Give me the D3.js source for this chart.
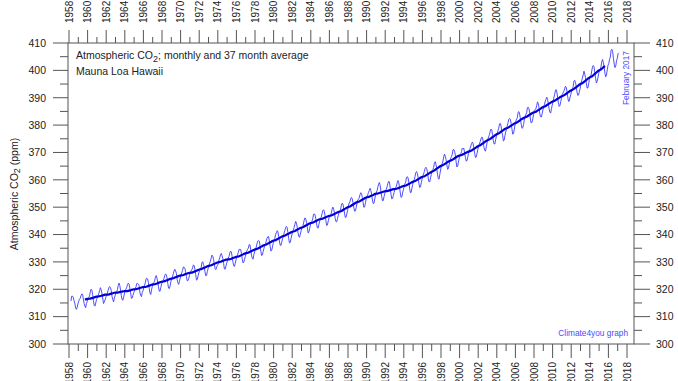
<!DOCTYPE html>
<html>
<head>
<meta charset="utf-8">
<script src="https://cdn.jsdelivr.net/npm/d3@7"></script>
<style>
  body { margin: 0; background: #fff; }
  svg { display: block; font-family: "Liberation Sans", Arial, sans-serif; }
</style>
</head>
<body>
<div id="chart"></div>
<script>
// monthly Mauna Loa CO2 (ppm), one row per year, Jan..Dec
// first row starts in March 1958, last row ends in February 2017
var firstYear = 1958;
var firstMonth = 3;
var monthlyCO2 = [
  [315.71, 317.45, 317.50, 317.10, 315.86, 314.93, 313.20, 312.66, 313.33, 314.67],
  [315.62, 316.38, 316.71, 317.72, 318.29, 318.15, 316.54, 314.80, 313.84, 313.26, 314.80, 315.58],
  [316.43, 316.97, 317.58, 319.02, 320.03, 319.59, 318.18, 315.91, 314.16, 313.83, 315.00, 316.19],
  [316.93, 317.70, 318.54, 319.48, 320.58, 319.77, 318.57, 316.79, 314.80, 315.38, 316.10, 317.01],
  [317.94, 318.56, 319.68, 320.63, 321.01, 320.55, 319.58, 317.40, 316.26, 315.42, 316.69, 317.69],
  [318.74, 319.08, 319.86, 321.39, 322.25, 321.47, 319.74, 317.77, 316.21, 315.99, 317.12, 318.31],
  [319.57, 320.07, 320.73, 321.77, 322.25, 321.89, 320.44, 318.70, 316.70, 316.79, 317.79, 318.71],
  [319.44, 320.44, 320.89, 322.13, 322.16, 321.87, 321.39, 318.81, 317.81, 317.30, 318.87, 319.42],
  [320.62, 321.59, 322.39, 323.87, 324.01, 323.75, 322.39, 320.37, 318.64, 318.10, 319.79, 321.08],
  [322.07, 322.50, 323.04, 324.42, 325.00, 324.09, 322.55, 320.92, 319.31, 319.31, 320.72, 321.96],
  [322.57, 323.15, 323.89, 325.02, 325.57, 325.36, 324.14, 322.03, 320.41, 320.25, 321.31, 322.84],
  [324.00, 324.42, 325.64, 326.66, 327.34, 326.76, 325.88, 323.67, 322.38, 321.78, 322.85, 324.11],
  [325.03, 325.99, 326.87, 328.13, 328.07, 327.66, 326.35, 324.69, 323.10, 323.16, 323.98, 325.13],
  [326.17, 326.68, 327.18, 327.78, 328.92, 328.57, 327.34, 325.46, 323.36, 323.57, 324.80, 326.01],
  [326.77, 327.63, 327.75, 329.72, 330.07, 329.09, 328.05, 326.32, 324.93, 325.06, 326.50, 327.55],
  [328.54, 329.56, 330.30, 331.50, 332.48, 332.07, 330.87, 329.31, 327.51, 327.18, 328.16, 328.64],
  [329.35, 330.71, 331.48, 332.65, 333.09, 332.25, 331.18, 329.40, 327.44, 327.37, 328.46, 329.58],
  [330.40, 331.40, 332.04, 333.31, 333.96, 333.59, 331.91, 330.06, 328.56, 328.34, 329.49, 330.76],
  [331.75, 332.56, 333.50, 334.58, 334.57, 334.56, 333.12, 331.21, 329.64, 329.85, 330.94, 332.01],
  [333.06, 334.05, 334.66, 335.07, 336.33, 336.25, 334.39, 332.44, 331.35, 331.01, 332.62, 333.61],
  [334.82, 335.35, 336.57, 337.58, 337.85, 337.60, 335.95, 333.92, 332.29, 332.54, 333.78, 334.87],
  [336.08, 336.76, 337.57, 338.69, 339.18, 339.30, 337.76, 335.75, 333.93, 334.21, 335.44, 336.77],
  [337.97, 338.55, 339.90, 340.63, 341.40, 341.14, 339.40, 337.63, 336.11, 336.03, 337.23, 338.33],
  [339.25, 340.50, 341.40, 342.53, 343.01, 342.52, 340.70, 338.50, 336.92, 337.13, 338.54, 339.83],
  [340.90, 341.71, 342.60, 343.76, 344.79, 344.17, 342.63, 340.68, 339.26, 339.04, 340.20, 341.35],
  [342.38, 342.91, 343.84, 345.33, 346.10, 345.68, 344.51, 342.65, 340.59, 340.87, 342.23, 343.46],
  [344.19, 344.86, 345.70, 347.40, 347.56, 347.12, 345.74, 343.88, 342.45, 342.37, 343.74, 345.00],
  [345.90, 346.38, 347.59, 348.70, 349.05, 348.37, 346.82, 345.02, 343.30, 343.51, 344.97, 346.07],
  [346.91, 347.25, 347.85, 349.32, 350.04, 349.29, 347.90, 345.80, 344.69, 344.69, 345.90, 347.01],
  [348.15, 348.62, 349.32, 350.81, 351.46, 351.15, 349.49, 347.87, 346.26, 346.35, 347.55, 348.87],
  [350.43, 351.54, 351.89, 353.22, 353.55, 352.99, 351.62, 349.89, 348.52, 348.65, 349.84, 351.18],
  [352.60, 352.91, 353.43, 354.57, 355.29, 354.96, 353.51, 351.63, 349.91, 350.15, 351.63, 353.04],
  [353.89, 354.67, 355.37, 356.16, 356.90, 356.10, 354.69, 352.63, 351.34, 351.42, 353.03, 354.35],
  [355.25, 356.07, 357.32, 358.42, 359.03, 357.97, 355.87, 353.84, 352.34, 352.43, 353.86, 355.04],
  [355.89, 356.61, 357.55, 358.72, 359.48, 359.18, 356.89, 354.70, 353.04, 353.22, 354.30, 355.42],
  [356.40, 357.05, 357.72, 358.97, 359.74, 358.90, 357.27, 355.20, 353.54, 353.82, 355.23, 356.43],
  [357.67, 358.59, 359.30, 360.91, 361.17, 360.67, 359.17, 356.95, 355.30, 355.42, 356.95, 358.38],
  [359.58, 360.07, 361.22, 362.64, 363.04, 362.33, 360.85, 358.65, 357.16, 357.40, 358.89, 360.11],
  [361.36, 362.15, 363.05, 364.13, 364.59, 364.09, 362.83, 360.62, 359.23, 359.33, 360.70, 362.05],
  [362.87, 363.63, 364.52, 366.06, 366.63, 365.69, 364.17, 362.08, 360.46, 360.24, 362.06, 363.61],
  [365.15, 365.87, 366.84, 368.39, 369.40, 368.64, 367.46, 365.45, 363.84, 364.07, 365.54, 366.77],
  [367.89, 368.49, 369.30, 371.00, 371.07, 370.47, 369.09, 366.56, 364.70, 365.01, 366.51, 367.87],
  [369.07, 369.32, 370.38, 371.63, 371.32, 371.51, 369.69, 368.18, 366.87, 366.94, 368.27, 369.64],
  [370.47, 371.44, 372.39, 373.32, 373.77, 373.13, 371.51, 369.59, 368.12, 368.38, 369.64, 371.11],
  [372.38, 373.08, 373.87, 374.93, 375.58, 375.44, 373.91, 371.77, 370.72, 370.50, 372.19, 373.70],
  [374.92, 375.63, 376.51, 377.75, 378.54, 378.21, 376.65, 374.28, 373.12, 373.10, 374.67, 375.97],
  [377.03, 377.87, 378.88, 380.42, 380.62, 379.70, 377.43, 376.32, 374.19, 374.47, 376.15, 377.51],
  [378.43, 379.70, 380.92, 382.18, 382.45, 382.14, 380.60, 378.64, 376.73, 376.84, 378.29, 380.06],
  [381.40, 382.20, 382.66, 384.69, 384.94, 384.01, 382.14, 380.31, 378.81, 379.03, 380.17, 381.85],
  [382.94, 383.86, 384.49, 386.37, 386.54, 385.98, 384.36, 381.85, 380.74, 381.15, 382.38, 383.94],
  [385.44, 385.73, 385.97, 387.16, 388.50, 387.88, 386.38, 384.15, 383.07, 382.98, 384.11, 385.54],
  [386.92, 387.41, 388.77, 389.46, 390.18, 389.43, 387.74, 385.91, 384.77, 384.38, 385.99, 387.26],
  [388.45, 389.82, 391.08, 392.46, 392.96, 392.03, 390.13, 388.15, 386.80, 387.18, 388.59, 389.68],
  [391.19, 391.80, 392.40, 393.18, 394.21, 393.85, 392.39, 390.33, 388.68, 388.71, 390.20, 391.17],
  [392.46, 393.00, 394.04, 396.06, 396.39, 395.55, 394.27, 392.06, 390.86, 391.00, 392.27, 393.24],
  [395.15, 396.21, 397.18, 398.39, 399.72, 398.62, 397.30, 395.35, 393.56, 393.54, 395.04, 396.79],
  [397.85, 398.01, 399.77, 401.38, 401.78, 401.25, 399.10, 397.03, 395.38, 396.03, 397.28, 398.91],
  [399.98, 400.28, 401.54, 403.28, 403.96, 402.80, 401.31, 398.93, 397.63, 398.29, 400.16, 401.85],
  [402.52, 404.04, 404.83, 407.42, 407.70, 406.81, 404.39, 402.25, 401.03, 401.57, 403.53, 404.42],
  [406.13, 406.42]
];
var avgWindow = 37;
var xTickYears = d3.range(1958, 2019);
var yTickValues = d3.range(300, 411, 5);

// flatten the rows into (decimal year, value) points
var monthly = [];
monthlyCO2.forEach(function(row, r) {
    var m0 = r === 0 ? firstMonth : 1;
    row.forEach(function(v, k) {
        monthly.push({ t: firstYear + r + (m0 + k - 0.5) / 12, v: v });
    });
});

// centred 37 month running mean
var half = (avgWindow - 1) / 2;
var average = [];
for (var i = half; i < monthly.length - half; i++) {
    average.push({ t: monthly[i].t, v: d3.mean(monthly.slice(i - half, i + half + 1), d => d.v) });
}

var svgwidth = 678, svgheight = 381;
var frame = { left: 68, right: 634, top: 43, bottom: 344 };

var svg = d3.select("#chart").append("svg")
    .attr("width", svgwidth)
    .attr("height", svgheight);

var x = d3.scaleLinear().domain([1958, 2018]).range([69, 627]);
var y = d3.scaleLinear().domain([300, 410]).range([frame.bottom, frame.top]);

var axisColor = "#555";
var textColor = "#222";

// y ticks, both sides
yTickValues.forEach(function(v) {
    var major = v % 10 === 0;
    svg.append("line")
        .attr("x1", frame.left - (major ? 15 : 8)).attr("x2", frame.left)
        .attr("y1", y(v)).attr("y2", y(v))
        .attr("stroke", axisColor).attr("stroke-width", 1);
    svg.append("line")
        .attr("x1", frame.right).attr("x2", frame.right + (major ? 16 : 8))
        .attr("y1", y(v)).attr("y2", y(v))
        .attr("stroke", axisColor).attr("stroke-width", 1);
    if (major) {
        svg.append("text")
            .attr("x", 46).attr("y", y(v)).attr("dy", "0.36em")
            .attr("text-anchor", "end")
            .attr("font-size", 10.5).attr("fill", textColor)
            .text(v);
        svg.append("text")
            .attr("x", 656).attr("y", y(v)).attr("dy", "0.36em")
            .attr("text-anchor", "start")
            .attr("font-size", 10.5).attr("fill", textColor)
            .text(v);
    }
});

// x ticks, top and bottom
xTickYears.forEach(function(yr) {
    var major = yr % 2 === 0;
    svg.append("line")
        .attr("x1", x(yr)).attr("x2", x(yr))
        .attr("y1", frame.top - (major ? 13 : 6)).attr("y2", frame.top)
        .attr("stroke", axisColor).attr("stroke-width", 1);
    svg.append("line")
        .attr("x1", x(yr)).attr("x2", x(yr))
        .attr("y1", frame.bottom).attr("y2", frame.bottom + (major ? 14 : 7))
        .attr("stroke", axisColor).attr("stroke-width", 1);
    if (major) {
        svg.append("text")
            .attr("transform", `translate(${x(yr) + 3.5},23) rotate(-90)`)
            .attr("text-anchor", "start")
            .attr("font-size", 10).attr("fill", textColor)
            .text(yr);
        svg.append("text")
            .attr("transform", `translate(${x(yr) + 3.5},362) rotate(-90)`)
            .attr("text-anchor", "end")
            .attr("font-size", 10).attr("fill", textColor)
            .text(yr);
    }
});

// frame
svg.append("rect")
    .attr("x", frame.left).attr("y", frame.top)
    .attr("width", frame.right - frame.left)
    .attr("height", frame.bottom - frame.top)
    .attr("fill", "none").attr("stroke", axisColor).attr("stroke-width", 1);

// data lines
var line = d3.line().x(d => x(d.t)).y(d => y(d.v));

svg.append("path")
    .datum(monthly)
    .attr("d", line)
    .attr("fill", "none")
    .attr("stroke", "#3a3aff")
    .attr("stroke-width", 0.9);

svg.append("path")
    .datum(average)
    .attr("d", line)
    .attr("fill", "none")
    .attr("stroke", "#0000d8")
    .attr("stroke-width", 2.2);

// y axis title
var ytitle = svg.append("text")
    .attr("transform", "translate(18,194) rotate(-90)")
    .attr("text-anchor", "middle")
    .attr("font-size", 10.5).attr("fill", textColor);
ytitle.append("tspan").text("Atmospheric CO");
ytitle.append("tspan").attr("font-size", 9).attr("dy", 2).text("2");
ytitle.append("tspan").attr("dy", -2).text(" (ppm)");

// annotations
var title = svg.append("text")
    .attr("x", 76).attr("y", 59)
    .attr("font-size", 10.5).attr("fill", textColor);
title.append("tspan").text("Atmospheric CO");
title.append("tspan").attr("font-size", 9).attr("dy", 2.5).text("2");
title.append("tspan").attr("dy", -2.5).text("; monthly and 37 month average");

svg.append("text")
    .attr("x", 76).attr("y", 75)
    .attr("font-size", 10.5).attr("fill", textColor)
    .text("Mauna Loa Hawaii");

svg.append("text")
    .attr("transform", "translate(629,105) rotate(-90)")
    .attr("text-anchor", "start")
    .attr("font-size", 8.3).attr("fill", "#4b4bff")
    .text("February 2017");

svg.append("text")
    .attr("x", 628).attr("y", 336)
    .attr("text-anchor", "end")
    .attr("font-size", 8.3).attr("fill", "#4b4bff")
    .text("Climate4you graph");
</script>
</body>
</html>
